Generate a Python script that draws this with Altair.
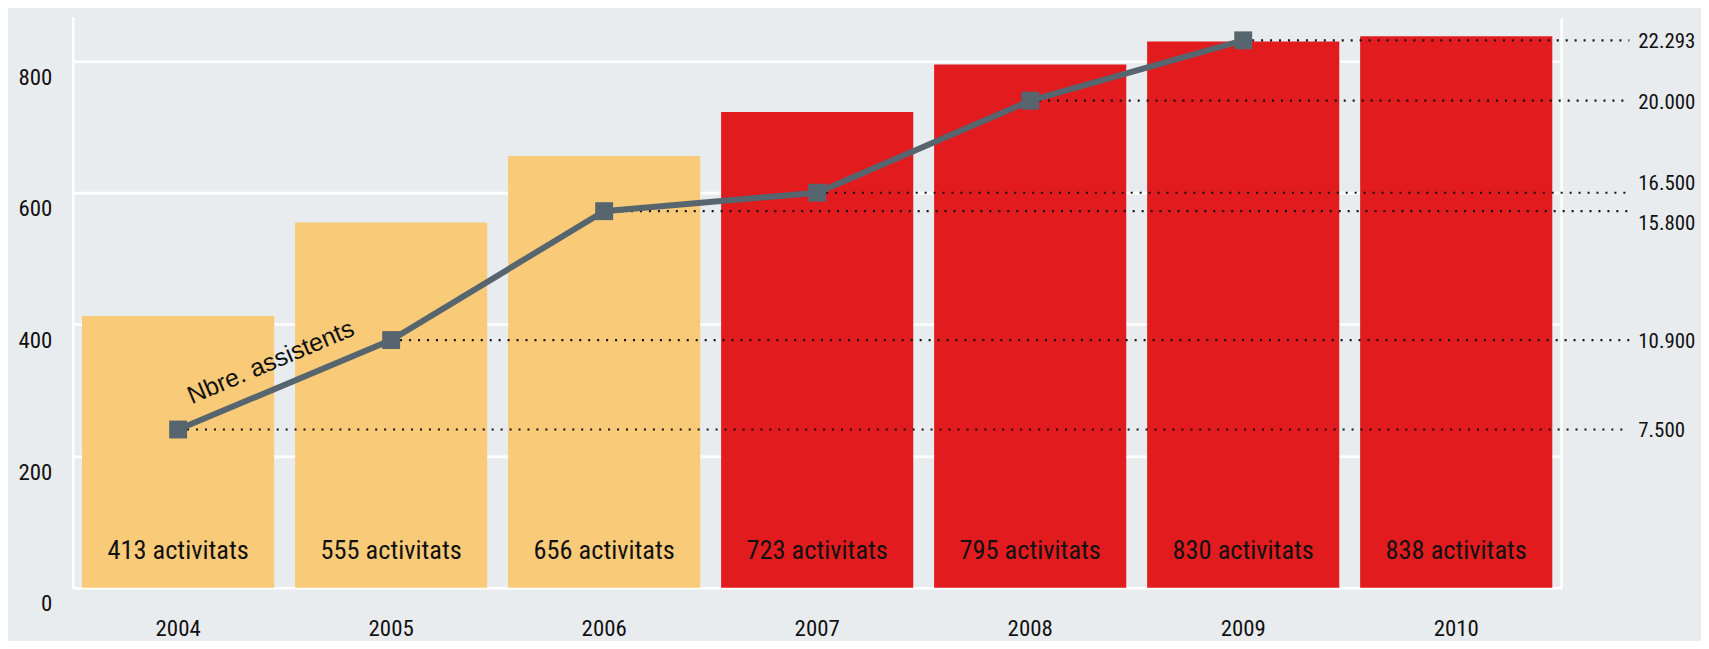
import altair as alt
import pandas as pd

# ---- data ----
years = ["2004", "2005", "2006", "2007", "2008", "2009", "2010"]
activities = [413, 555, 656, 723, 795, 830, 838]
periods = ["A", "A", "A", "B", "B", "B", "B"]

assist_years = ["2004", "2005", "2006", "2007", "2008", "2009"]
assistants = [7500, 10900, 15800, 16500, 20000, 22293]
assist_labels = ["7.500", "10.900", "15.800", "16.500", "20.000", "22.293"]

y_ticks = [0, 200, 400, 600, 800]
series_name = "Nbre. assistents"

# ---- styling ----
W, H = 1496, 574
BG = "#E9ECEF"
YELLOW = "#F9CB79"
RED = "#E21B1F"
LINE = "#56656E"
INK = "#111111"
FONT = "Liberation Sans, Arial, sans-serif"
NARROW = "Liberation Sans Narrow, Arial Narrow, Roboto Condensed, DejaVu Sans Condensed, sans-serif"

bars_df = pd.DataFrame({
    "year": years,
    "activitats": activities,
    "period": periods,
    "label": [f"{a} activitats" for a in activities],
})
line_df = pd.DataFrame({
    "year": assist_years,
    "assistents": assistants,
    "label": assist_labels,
})

x_enc = alt.X(
    "year:N", sort=years,
    scale=alt.Scale(paddingInner=0.098, paddingOuter=0.044),
    axis=alt.Axis(title=None, labelAngle=0, ticks=False, domain=False, grid=False,
                  labelBaseline="middle", labelPadding=41,
                  labelFontSize=23, labelFont=NARROW, labelColor=INK),
)

y_left = alt.Y(
    "activitats:Q",
    scale=alt.Scale(domain=[0, 868], nice=False),
    axis=alt.Axis(title=None, values=y_ticks, ticks=False, domain=True, domainColor="white",
                  domainWidth=2.5, grid=True, gridColor="white", gridWidth=2.7, gridOpacity=1,
                  labelPadding=21, labelOffset=16, labelFlush=False,
                  labelFontSize=23, labelFont=NARROW, labelColor=INK),
)

bars = alt.Chart(bars_df).mark_bar(opacity=1).encode(
    x=x_enc,
    y=y_left,
    color=alt.Color("period:N", scale=alt.Scale(domain=["A", "B"], range=[YELLOW, RED]), legend=None),
)

bar_labels = alt.Chart(bars_df).mark_text(
    fontSize=26.5, font=NARROW, color=INK, baseline="middle", align="center"
).encode(x=x_enc, y=alt.value(H - 37), text="label:N")

right_edge = alt.Chart(pd.DataFrame({"k": [0]})).mark_rule(color="white", strokeWidth=2.5).encode(
    x=alt.value(W), y=alt.value(2), y2=alt.value(H)
)

left_group = alt.layer(bars, bar_labels, right_edge)

y_right = alt.Y("assistents:Q", scale=alt.Scale(domain=[1485, 23201], nice=False, zero=False), axis=None)

dots = alt.Chart(line_df).mark_rule(strokeDash=[2, 7], strokeWidth=2.2, color=INK).encode(
    x=x_enc, x2=alt.value(W + 68), y=y_right
)
line = alt.Chart(line_df).mark_line(color=LINE, strokeWidth=6).encode(x=x_enc, y=y_right)
points = alt.Chart(line_df).mark_square(size=324, color=LINE, opacity=1).encode(x=x_enc, y=y_right)

label_style = dict(align="left", fontSize=21, font=NARROW, color=INK)
right_labels = alt.Chart(line_df).transform_filter(
    (alt.datum.year != "2006") & (alt.datum.year != "2007")
).mark_text(baseline="middle", dy=2, **label_style).encode(x=alt.value(W + 77), y=y_right, text="label:N")
right_label_up = alt.Chart(line_df).transform_filter(alt.datum.year == "2007").mark_text(
    baseline="bottom", dy=1, **label_style
).encode(x=alt.value(W + 77), y=y_right, text="label:N")
right_label_down = alt.Chart(line_df).transform_filter(alt.datum.year == "2006").mark_text(
    baseline="top", dy=2, **label_style
).encode(x=alt.value(W + 77), y=y_right, text="label:N")

series_label = alt.Chart(line_df).transform_filter(alt.datum.year == assist_years[0]).mark_text(
    text=series_name, angle=337, dx=112, dy=-26, fontSize=25, font=FONT, color=INK,
    align="center", baseline="middle"
).encode(x=x_enc, y=y_right)

right_group = alt.layer(dots, line, points, right_labels, right_label_up, right_label_down, series_label)

chart = alt.layer(left_group, right_group).resolve_scale(y="independent").properties(
    width=W, height=H,
    padding={"left": 65, "top": 7, "right": 140, "bottom": 52},
    autosize=alt.AutoSizeParams(type="none"),
    background=BG,
).configure_view(stroke=None)

chart.save("out.html", embed_options={"renderer": "svg", "actions": False})
